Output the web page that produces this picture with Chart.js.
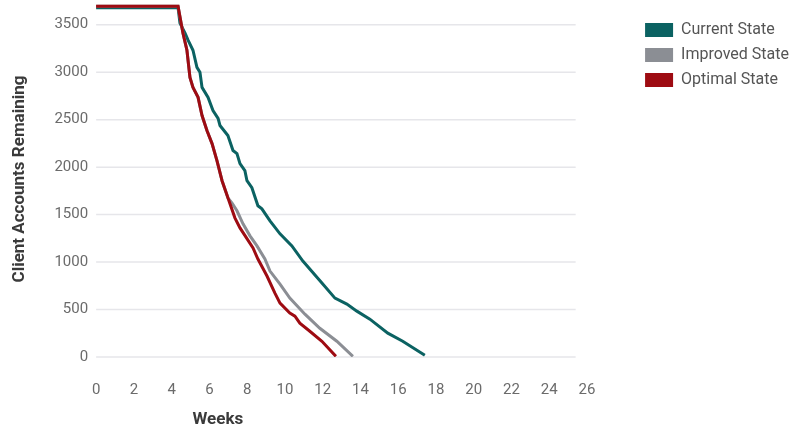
<!DOCTYPE html>
<html>
<head>
  <title>Client Accounts Remaining</title>
  <script src="https://cdn.jsdelivr.net/npm/chart.js"></script>
  <style>
    body {
      margin: 0;
      background-color: #ffffff;
    }

    .chart-box {
      position: relative;
      width: 792px;
      height: 432px;
    }
  </style>
</head>
<body>
  <div class="chart-box">
    <canvas id="burndownChart"></canvas>
  </div>

  <script>
    // Series (weeks, accounts remaining)
    const currentWeeks = [0, 4.34, 4.44, 4.71, 4.87, 5.13, 5.34, 5.50, 5.61, 5.93, 6.19, 6.46, 6.56, 6.98, 7.25, 7.46, 7.62, 7.88, 7.99, 8.25, 8.57, 8.78, 9.21, 9.74, 10.37, 10.95, 11.96, 12.65, 13.28, 13.81, 14.50, 15.45, 16.24, 17.41];
    const currentValues = [3680, 3680, 3517, 3411, 3337, 3231, 3051, 2999, 2840, 2735, 2597, 2513, 2439, 2333, 2175, 2143, 2037, 1963, 1857, 1783, 1593, 1561, 1434, 1297, 1170, 1011, 779, 620, 557, 483, 399, 251, 166, 18];

    const improvedWeeks = [0, 4.34, 4.60, 4.81, 4.97, 5.13, 5.40, 5.61, 5.87, 6.14, 6.40, 6.67, 6.98, 7.20, 7.46, 7.78, 8.15, 8.52, 8.94, 9.21, 9.74, 10.26, 11.06, 11.85, 12.75, 13.60];
    const improvedValues = [3695, 3695, 3411, 3231, 2946, 2840, 2735, 2544, 2386, 2248, 2069, 1857, 1677, 1620, 1540, 1403, 1276, 1170, 1032, 905, 768, 620, 451, 303, 166, 7];

    const optimalWeeks = [0, 4.34, 4.60, 4.81, 4.97, 5.13, 5.40, 5.61, 5.87, 6.14, 6.40, 6.67, 6.98, 7.35, 7.62, 8.31, 8.57, 9.05, 9.47, 9.74, 10.26, 10.53, 10.79, 11.32, 11.96, 12.70];
    const optimalValues = [3695, 3695, 3411, 3231, 2946, 2840, 2735, 2544, 2386, 2248, 2069, 1857, 1677, 1466, 1360, 1149, 1032, 853, 673, 567, 462, 430, 356, 271, 166, 7];

    const seriesLabels = ['Current State', 'Improved State', 'Optimal State'];
    const xTicks = [0, 2, 4, 6, 8, 10, 12, 14, 16, 18, 20, 22, 24, 26];
    const yTicks = [0, 500, 1000, 1500, 2000, 2500, 3000, 3500];

    const colors = ['#0b6262', '#8b8e94', '#9e0b12'];
    const fontFamily = "Roboto, 'Liberation Sans', sans-serif";

    const toPoints = (xs, ys) => xs.map((x, i) => ({ x: x, y: ys[i] }));

    // horizontal grid lines stop short of the last tick, and the x title sits off-centre
    const gridEndWeek = 25.4;
    const xTitleWeek = 6.45;

    const decorations = {
      id: 'decorations',
      beforeDatasetsDraw(chart) {
        const { ctx, scales: { x, y } } = chart;
        ctx.save();
        ctx.strokeStyle = '#e6e6ea';
        ctx.lineWidth = 1.5;
        yTicks.forEach(v => {
          const py = y.getPixelForValue(v);
          ctx.beginPath();
          ctx.moveTo(x.getPixelForValue(0), py);
          ctx.lineTo(x.getPixelForValue(gridEndWeek), py);
          ctx.stroke();
        });
        ctx.restore();
      },
      afterDraw(chart) {
        const { ctx, scales: { x } } = chart;
        ctx.save();
        ctx.font = 'bold 17px ' + fontFamily;
        ctx.fillStyle = '#3a3a3a';
        ctx.textAlign = 'center';
        ctx.textBaseline = 'middle';
        ctx.fillText('Weeks', x.getPixelForValue(xTitleWeek), chart.height - 12);
        ctx.restore();
      }
    };

    Chart.defaults.font.family = fontFamily;

    const burndownChart = new Chart(document.getElementById('burndownChart'), {
      type: 'line',
      data: {
        datasets: [
          { label: seriesLabels[0], data: toPoints(currentWeeks, currentValues), order: 3 },
          { label: seriesLabels[1], data: toPoints(improvedWeeks, improvedValues), order: 2 },
          { label: seriesLabels[2], data: toPoints(optimalWeeks, optimalValues), order: 1 }
        ].map((ds, i) => ({
          ...ds,
          borderColor: colors[i],
          backgroundColor: colors[i],
          borderWidth: 3,
          pointRadius: 0,
          tension: 0,
          fill: false
        }))
      },
      options: {
        responsive: true,
        maintainAspectRatio: false,
        animation: false,
        layout: {
          padding: { left: 4, top: 1, right: -7, bottom: 9 }
        },
        plugins: {
          tooltip: { enabled: false },
          legend: {
            position: 'right',
            align: 'start',
            title: {
              display: true,
              text: '',
              padding: 0,
              font: { size: 12, lineHeight: 1 }
            },
            labels: {
              boxWidth: 28,
              boxHeight: 14,
              padding: 9,
              color: '#555555',
              font: { size: 16 },
              sort: (a, b) => a.datasetIndex - b.datasetIndex,
              generateLabels: chart =>
                Chart.defaults.plugins.legend.labels.generateLabels(chart)
                  .map(item => ({ ...item, lineWidth: 0 }))
            }
          }
        },
        scales: {
          x: {
            type: 'linear',
            min: 0,
            max: 28.6,
            afterBuildTicks: axis => { axis.ticks = xTicks.map(v => ({ value: v })); },
            grid: { display: false, drawTicks: false },
            border: { display: false },
            ticks: {
              color: '#6b6b6b',
              font: { size: 15 },
              padding: 24,
              maxRotation: 0,
              autoSkip: false,
              callback: v => String(v)
            }
          },
          y: {
            min: 0,
            max: 3750,
            afterBuildTicks: axis => { axis.ticks = yTicks.map(v => ({ value: v })); },
            afterFit: axis => { axis.paddingTop = 0; axis.paddingBottom = 0; },
            grid: { display: false, drawTicks: false },
            border: { display: false },
            ticks: {
              color: '#6b6b6b',
              font: { size: 15 },
              padding: 8,
              callback: v => String(v)
            },
            title: {
              display: true,
              text: 'Client Accounts Remaining',
              color: '#3a3a3a',
              font: { size: 17, weight: 'bold' },
              padding: { top: 6, bottom: 16 }
            }
          }
        }
      },
      plugins: [decorations]
    });
  </script>
</body>
</html>
